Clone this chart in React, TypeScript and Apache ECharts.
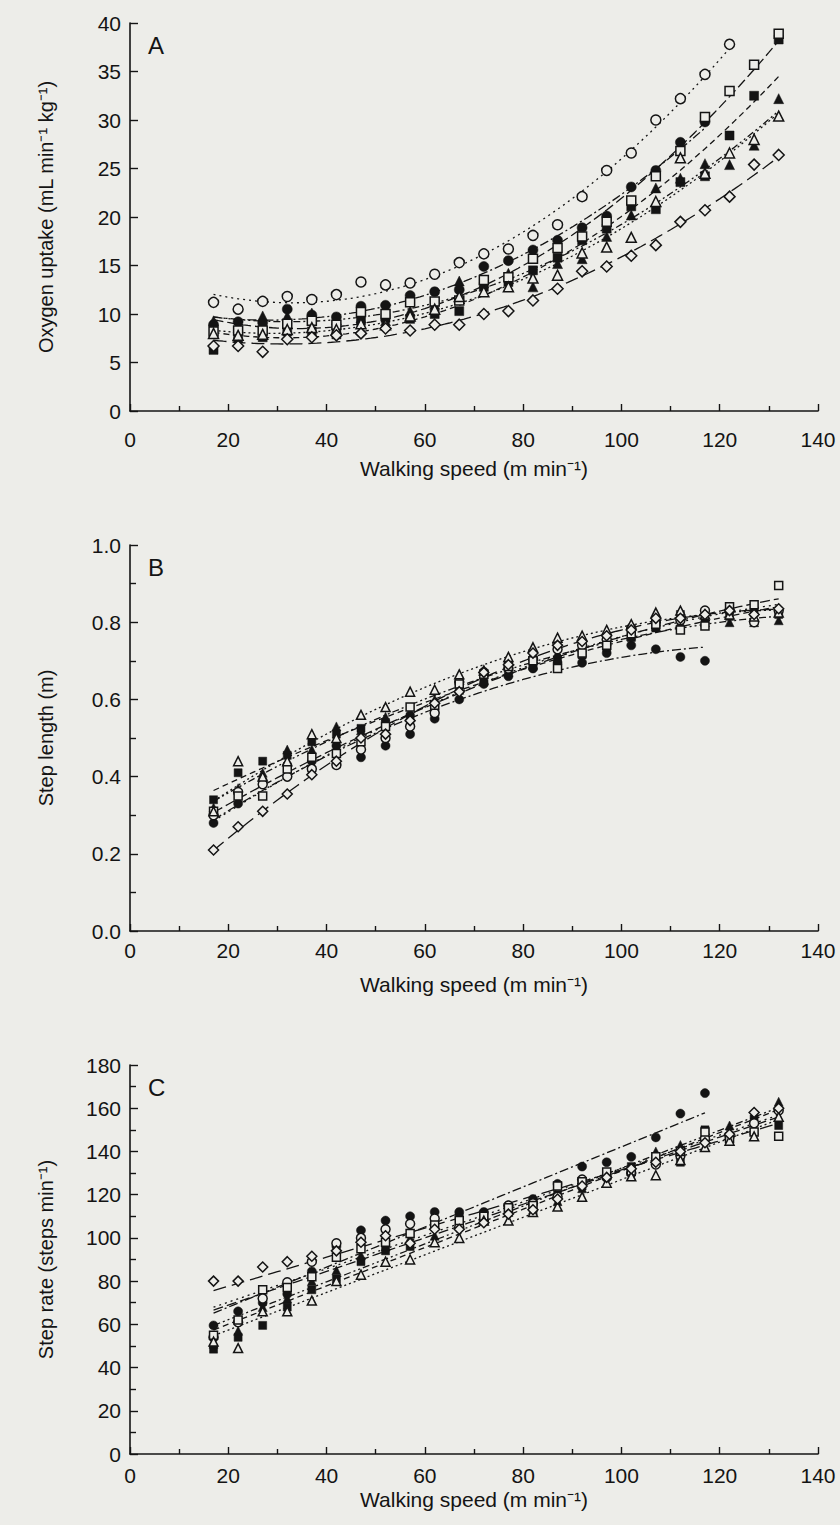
import React, { useEffect, useRef } from "react";
import * as echarts from "echarts";

// Walking speeds (m/min)
const speeds = [17, 22, 27, 32, 37, 42, 47, 52, 57, 62, 67, 72, 77, 82, 87, 92, 97, 102, 107, 112, 117, 122, 127, 132];

// Panel A: oxygen uptake (mL min-1 kg-1)
const A_oc = [11.2, 10.5, 11.3, 11.8, 11.5, 12.0, 13.3, 13.0, 13.2, 14.1, 15.3, 16.2, 16.7, 18.1, 19.2, 22.1, 24.8, 26.6, 30.0, 32.2, 34.7, 37.8, null, null];
const A_fc = [8.9, 9.2, 9.1, 10.5, 9.9, 9.7, 10.8, 10.9, 11.9, 12.3, 12.5, 14.9, 15.5, 16.6, 17.6, 18.9, 20.1, 23.1, 24.8, 27.7, 29.8, null, null, null];
const A_os = [8.2, 8.3, 8.3, 9.0, 9.3, 8.9, 10.2, 10.0, 11.2, 11.3, 11.4, 13.5, 13.8, 15.7, 16.8, 18.0, 19.5, 21.7, 24.2, 26.8, 30.3, 33.0, 35.7, 38.9];
const A_fs = [6.3, 7.5, 7.6, 8.2, 8.2, 7.9, 9.3, 9.6, 9.5, 10.0, 10.3, 12.8, 13.3, 14.5, 15.8, 17.6, 18.8, 21.1, 20.8, 23.6, 24.2, 28.4, 32.5, 38.3];
const A_ot = [8.0, 7.8, 7.9, 8.4, 8.6, 8.4, 9.0, 8.9, 9.8, 10.5, 11.8, 12.3, 12.8, 13.7, 14.0, 16.3, 16.9, 17.9, 21.6, 26.1, 24.5, 26.6, 28.0, 30.4];
const A_ft = [9.3, 8.6, 9.8, 9.8, 10.1, 9.4, 9.6, 9.3, 10.3, 11.0, 13.4, 13.2, 14.2, 12.8, 15.2, 15.7, 18.0, 20.2, 23.0, 24.0, 25.5, 25.4, 27.4, 32.2];
const A_od = [6.7, 6.7, 6.1, 7.4, 7.6, 7.8, 8.0, 8.5, 8.3, 8.9, 8.9, 10.0, 10.3, 11.4, 12.6, 14.4, 14.9, 16.0, 17.1, 19.5, 20.7, 22.1, 25.4, 26.4];

// Panel B: step length (m)
const B_oc = [0.30, 0.36, 0.38, 0.40, 0.42, 0.43, 0.47, 0.50, 0.53, 0.565, 0.645, 0.67, 0.68, 0.705, 0.73, 0.74, 0.755, 0.785, 0.80, 0.805, 0.83, 0.83, 0.80, 0.83];
const B_fc = [0.28, 0.33, 0.39, 0.43, 0.44, 0.48, 0.45, 0.48, 0.51, 0.55, 0.60, 0.64, 0.66, 0.68, 0.695, 0.695, 0.72, 0.74, 0.73, 0.71, 0.70, null, null, null];
const B_os = [0.31, 0.35, 0.35, 0.42, 0.45, 0.46, 0.49, 0.53, 0.58, 0.585, 0.64, 0.665, 0.685, 0.70, 0.68, 0.72, 0.74, 0.77, 0.795, 0.78, 0.79, 0.84, 0.845, 0.895];
const B_fs = [0.34, 0.41, 0.44, 0.455, 0.49, 0.51, 0.525, 0.54, 0.555, 0.575, 0.63, 0.655, 0.675, 0.685, 0.70, 0.715, 0.735, 0.76, 0.785, 0.82, 0.805, 0.815, 0.825, 0.82];
const B_ot = [0.31, 0.44, 0.40, 0.44, 0.51, 0.50, 0.56, 0.58, 0.62, 0.625, 0.665, 0.675, 0.71, 0.735, 0.76, 0.765, 0.78, 0.795, 0.825, 0.83, 0.82, 0.82, 0.815, 0.825];
const B_ft = [0.32, 0.37, 0.41, 0.47, 0.47, 0.53, 0.52, 0.555, 0.57, 0.60, 0.625, 0.65, 0.67, 0.69, 0.72, 0.735, 0.75, 0.765, 0.79, 0.80, 0.80, 0.80, 0.80, 0.805];
const B_od = [0.21, 0.27, 0.31, 0.355, 0.405, 0.44, 0.50, 0.51, 0.545, 0.59, 0.62, 0.67, 0.69, 0.72, 0.74, 0.75, 0.765, 0.78, 0.81, 0.81, 0.82, 0.83, 0.82, 0.835];

// Panel C: step rate (steps min-1)
const C_oc = [54, 61, 72, 79.5, 89, 97.5, 100, 104, 106.5, 109, 105, 108, 115, 116, 119, 127, 128, 130, 134, 138, 146, 147, 153, 159];
const C_fc = [59.5, 66, 70, 74, 84.5, 96, 103.5, 108, 110, 112, 112, 112, 115, 118, 125, 133, 135, 137.5, 146.5, 157.5, 167, null, null, null];
const C_os = [55, 62, 76, 77, 82, 91, 95, 98, 102, 106, 108, 110, 114, 115, 124, 126, 130.5, 131, 137.5, 140, 149, 146, 149, 147];
const C_fs = [48.5, 54, 59.5, 68, 76, 81, 89, 94, 96, 108, 109.5, 111, 113, 114, 120, 124, 130, 133, 136, 135, 150, 145, 155, 152];
const C_ot = [52, 49, 66, 66, 71, 80, 83, 89, 90, 98, 100, 108, 108, 112, 114.5, 119, 125.5, 128.5, 129, 136, 142, 145, 147, 156];
const C_ft = [51, 57, 68, 72, 80, 85, 92, 96, 100, 101, 106, 108, 112, 113, 117, 123, 129, 132, 140, 143, 148, 152, 150, 163];
const C_od = [80, 80, 86.5, 89, 91.5, 94, 98, 101, 97.5, 104, 104, 107, 111, 113, 118, 124, 128, 132, 135, 140, 144, 148, 158, 160];

const xTicks = [0, 20, 40, 60, 80, 100, 120, 140];

// Styles per subject (kept apart from data)
const BG = "#edede9";
const INK = "#141414";
const subjectStyles = [
  { symbol: "circle", filled: false, dash: [2, 4] },
  { symbol: "circle", filled: true, dash: [9, 3, 2, 3] },
  { symbol: "rect", filled: false, dash: [10, 4] },
  { symbol: "rect", filled: true, dash: [6, 4] },
  { symbol: "triangle", filled: false, dash: [2, 3] },
  { symbol: "triangle", filled: true, dash: [7, 3, 2, 3, 2, 3] },
  { symbol: "diamond", filled: false, dash: [13, 6] },
];

const panels = [
  { data: [A_oc, A_fc, A_os, A_fs, A_ot, A_ft, A_od], deg: 2 },
  { data: [B_oc, B_fc, B_os, B_fs, B_ot, B_ft, B_od], deg: 2 },
  { data: [C_oc, C_fc, C_os, C_fs, C_ot, C_ft, C_od], deg: 1 },
];

function polyfit(xs: number[], ys: number[], deg: number): number[] {
  const n = deg + 1;
  const M: number[][] = [];
  for (let r = 0; r < n; r++) {
    const row: number[] = [];
    for (let c = 0; c < n; c++) {
      let s = 0;
      for (let i = 0; i < xs.length; i++) s += Math.pow(xs[i], r + c);
      row.push(s);
    }
    let t = 0;
    for (let i = 0; i < xs.length; i++) t += ys[i] * Math.pow(xs[i], r);
    row.push(t);
    M.push(row);
  }
  for (let c = 0; c < n; c++) {
    let p = c;
    for (let r = c + 1; r < n; r++) if (Math.abs(M[r][c]) > Math.abs(M[p][c])) p = r;
    [M[c], M[p]] = [M[p], M[c]];
    for (let r = 0; r < n; r++) {
      if (r === c) continue;
      const f = M[r][c] / M[c][c];
      for (let k = c; k <= n; k++) M[r][k] -= f * M[c][k];
    }
  }
  return M.map((row, i) => row[n] / row[i]);
}

const FONT = "'Liberation Sans', Arial, Helvetica, sans-serif";

export default function App() {
  const ref = useRef<HTMLDivElement>(null);
  useEffect(() => {
    document.body.style.margin = "0";
    document.body.style.background = BG;
    const chart = echarts.init(ref.current!, null, { renderer: "svg" });

    const gridTops = [23, 545, 1065];
    const gridHeights = [388, 386, 389];
    const yCfg = [
      { min: 0, max: 40, interval: 5, minor: false, name: "Oxygen uptake (mL min⁻¹ kg⁻¹)", fmt: (v: number) => String(v) },
      { min: 0, max: 1.0, interval: 0.2, minor: true, name: "Step length (m)", fmt: (v: number) => v.toFixed(1) },
      { min: 0, max: 180, interval: 20, minor: true, name: "Step rate (steps min⁻¹)", fmt: (v: number) => String(v) },
    ];
    const xLabelMargin = [18, 9, 11];
    const xNameGap = [47, 43, 35];
    const letters = ["A", "B", "C"];

    const axisLine = { show: true, lineStyle: { color: INK, width: 1.6 } };
    const tickStyle = { color: INK, width: 1.4 };

    const grid = gridTops.map((t, i) => ({ left: 130, width: 688, top: t, height: gridHeights[i] }));
    const xAxis = gridTops.map((_, i) => ({
      type: "value",
      gridIndex: i,
      min: 0,
      max: 140,
      interval: 20,
      name: "Walking speed (m min⁻¹)",
      nameLocation: "middle",
      nameGap: xNameGap[i],
      nameTextStyle: { fontFamily: FONT, fontSize: 21, color: INK },
      axisLine,
      axisTick: { show: true, inside: true, length: 7, lineStyle: tickStyle },
      minorTick: { show: true, splitNumber: 2, length: 5, lineStyle: tickStyle },
      splitLine: { show: false },
      axisLabel: {
        fontFamily: FONT,
        fontSize: 21,
        color: INK,
        margin: xLabelMargin[i],
        customValues: xTicks,
      },
    }));
    const yAxis = yCfg.map((c, i) => ({
      type: "value",
      gridIndex: i,
      min: c.min,
      max: c.max,
      interval: c.interval,
      name: c.name,
      nameLocation: "middle",
      nameGap: 74,
      nameRotate: 90,
      nameTextStyle: { fontFamily: FONT, fontSize: 20, color: INK },
      axisLine,
      axisTick: { show: true, inside: true, length: 8, lineStyle: tickStyle },
      minorTick: { show: c.minor, splitNumber: 2, length: 6, lineStyle: tickStyle },
      splitLine: { show: false },
      axisLabel: { fontFamily: FONT, fontSize: 21, color: INK, margin: 9, formatter: c.fmt },
    }));

    const series: any[] = [];
    panels.forEach((p, pi) => {
      p.data.forEach((vals, si) => {
        const st = subjectStyles[si];
        const xs: number[] = [];
        const ys: number[] = [];
        speeds.forEach((x, k) => {
          const v = vals[k];
          if (v !== null && v !== undefined) {
            xs.push(x);
            ys.push(v as number);
          }
        });
        const coef = polyfit(xs, ys, p.deg);
        const line: number[][] = [];
        for (let x = xs[0]; x <= xs[xs.length - 1]; x += 1) {
          let y = 0;
          coef.forEach((c, k) => (y += c * Math.pow(x, k)));
          line.push([x, y]);
        }
        series.push({
          type: "line",
          xAxisIndex: pi,
          yAxisIndex: pi,
          data: line,
          showSymbol: false,
          symbol: "none",
          silent: true,
          lineStyle: { color: INK, width: 1.3, type: st.dash },
          z: 2,
        });
      });
      p.data.forEach((vals, si) => {
        const st = subjectStyles[si];
        const pts = speeds
          .map((x, k) => (vals[k] === null ? null : [x, vals[k]]))
          .filter((d) => d !== null);
        const size = pi === 0 ? 10 : 9;
        series.push({
          type: "scatter",
          xAxisIndex: pi,
          yAxisIndex: pi,
          data: pts,
          symbol: st.symbol,
          symbolSize: st.symbol === "rect" ? size - 1 : st.symbol === "diamond" ? size + 1 : size,
          itemStyle: {
            color: st.filled ? INK : BG,
            borderColor: INK,
            borderWidth: st.filled ? 0.5 : 1.5,
            opacity: 1,
          },
          z: 3 + (st.filled ? 0 : 1),
        });
      });
    });

    const graphic = letters.map((L, i) => ({
      type: "text",
      left: 148,
      top: gridTops[i] + 10,
      style: { text: L, font: `24px ${FONT}`, fill: INK },
      z: 10,
    }));

    chart.setOption({
      animation: false,
      backgroundColor: BG,
      grid,
      xAxis,
      yAxis,
      series,
      graphic,
    });
    return () => chart.dispose();
  }, []);
  return <div ref={ref} style={{ width: 840, height: 1525 }} />;
}
